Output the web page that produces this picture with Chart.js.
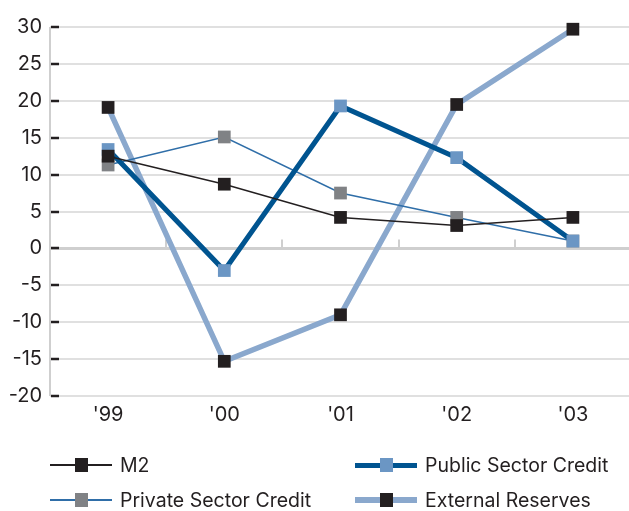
<!DOCTYPE html>
<html>
<head>
<meta charset="utf-8">
<script src="https://cdn.jsdelivr.net/npm/chart.js@4/dist/chart.umd.min.js"></script>
<style>
  body { margin: 0; background: #fff; font-family: Inter, "Noto Sans", sans-serif; overflow: hidden; }
  #wrap { position: relative; width: 629px; height: 511px; overflow: hidden; }
  #chart { display: block; }
  #legend { position: absolute; left: 0; top: 459px; width: 629px; height: 52px; }
  .item { position: absolute; display: flex; align-items: center; font-size: 19.5px; color: #231f20; }
  .sym { position: relative; width: 62px; height: 14px; margin-right: 8px; }
  .sym .ln { position: absolute; left: 0; right: 0; top: 50%; }
  .sym .sq { position: absolute; left: 25px; top: 0; width: 13px; height: 14px; }
</style>
</head>
<body>
<div id="wrap">
  <canvas id="chart" width="640" height="511"></canvas>
  <div id="legend"></div>
</div>
<script>
document.addEventListener('DOMContentLoaded', () => {
    const years = ["'99", "'00", "'01", "'02", "'03"];
    const m2 = [12.5, 8.7, 4.2, 3.1, 4.2];
    const publicCredit = [13.4, -3.0, 19.3, 12.3, 1.0];
    const privateCredit = [11.3, 15.1, 7.5, 4.2, 1.0];
    const reserves = [19.1, -15.3, -9.0, 19.5, 29.7];

    const names = ['M2', 'Public Sector Credit', 'Private Sector Credit', 'External Reserves'];
    const lineColors = ['#231f20', '#005490', '#2f6ea8', '#8aa8cd'];
    const markColors = ['#231f20', '#6b96c4', '#808285', '#231f20'];
    const widths = [1.5, 5, 1.5, 5.5];

    const series = [m2, publicCredit, privateCredit, reserves];

    // ticks on zero line and dark dashes on y axis
    const axisMarks = {
        id: 'axisMarks',
        beforeDatasetsDraw(chart) {
            const c = chart.ctx;
            const x = chart.scales.x, y = chart.scales.y;
            const area = chart.chartArea;
            c.save();
            // left axis line
            c.strokeStyle = '#cfcfcf';
            c.lineWidth = 2;
            c.beginPath();
            c.moveTo(area.left, area.top);
            c.lineTo(area.left, area.bottom);
            c.stroke();
            // zero line
            const y0 = y.getPixelForValue(0);
            c.lineWidth = 3;
            c.beginPath();
            c.moveTo(area.left, y0);
            c.lineTo(area.right, y0);
            c.stroke();
            // category boundary ticks
            c.lineWidth = 2;
            for (let i = 0; i < years.length; i++) {
                const bx = Math.round(x.getPixelForTick(i) - (x.getPixelForTick(1) - x.getPixelForTick(0)) / 2);
                c.beginPath();
                c.moveTo(bx, y0 - 9);
                c.lineTo(bx, y0);
                c.stroke();
            }
            // dark dashes
            c.strokeStyle = '#231f20';
            c.lineWidth = 2.5;
            y.ticks.forEach(t => {
                const py = Math.round(y.getPixelForValue(t.value));
                c.beginPath();
                c.moveTo(area.left + 1, py);
                c.lineTo(area.left + 9, py);
                c.stroke();
            });
            c.restore();
        }
    };

    const ctx = document.getElementById('chart').getContext('2d');
    new Chart(ctx, {
        type: 'line',
        data: {
            labels: years,
            datasets: series.map((d, i) => ({
                label: names[i],
                data: d,
                borderColor: lineColors[i],
                borderWidth: widths[i],
                backgroundColor: markColors[i],
                pointBackgroundColor: markColors[i],
                pointBorderWidth: 0,
                pointStyle: 'rect',
                pointRadius: 9,
                tension: 0,
                fill: false,
                clip: false
            }))
        },
        options: {
            responsive: false,
            animation: false,
            layout: { padding: { top: 27, right: 0, bottom: 80, left: 0 } },
            plugins: { legend: { display: false }, tooltip: { enabled: false } },
            scales: {
                x: {
                    offset: true,
                    grid: { display: false, drawTicks: false },
                    border: { display: false },
                    ticks: { color: '#231f20', font: { family: 'Inter', size: 20 }, padding: 7 },
                    afterFit(scale) { scale.height = 35; }
                },
                y: {
                    min: -20,
                    max: 30,
                    ticks: { stepSize: 5, color: '#231f20', font: { family: 'Inter', size: 20 }, padding: 8 },
                    grid: { color: '#e0e0e0', lineWidth: 2, drawTicks: false },
                    border: { display: false },
                    afterFit(scale) { scale.width = 50; }
                }
            }
        },
        plugins: [axisMarks]
    });

    // legend in two columns
    const legend = document.getElementById('legend');
    const pos = [[50, 6], [355, 6], [50, 41], [355, 41]];
    names.forEach((n, i) => {
        const item = document.createElement('div');
        item.className = 'item';
        item.style.left = pos[i][0] + 'px';
        item.style.top = (pos[i][1] - 10) + 'px';
        item.style.height = '20px';
        item.innerHTML = '<div class="sym"><div class="ln" style="height:' + widths[i] + 'px;margin-top:' + (-widths[i] / 2) + 'px;background:' + lineColors[i] + '"></div>' +
            '<div class="sq" style="background:' + markColors[i] + '"></div></div><span>' + n + '</span>';
        legend.appendChild(item);
    });
});
</script>
</body>
</html>
